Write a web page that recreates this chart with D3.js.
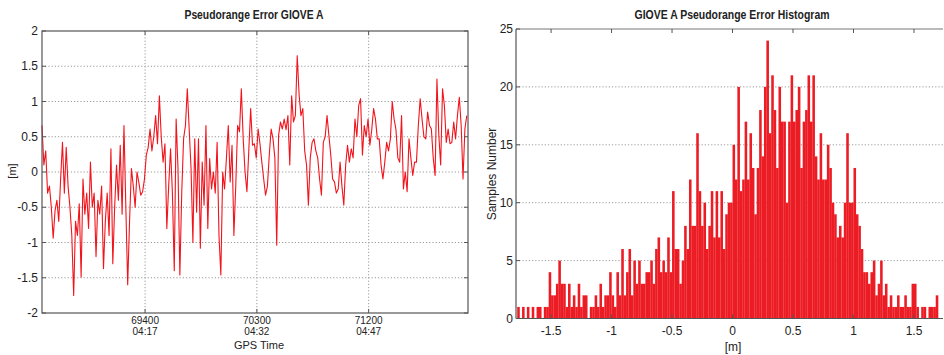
<!DOCTYPE html>
<html><head><meta charset="utf-8">
<script src="https://cdn.jsdelivr.net/npm/d3@7"></script>
<style>
html,body{margin:0;padding:0;background:#fff;}
text{font-family:'Liberation Sans Narrow','Liberation Sans',Arial,sans-serif;fill:#222;}
</style></head>
<body>
<svg id="c" width="944" height="355"></svg>
<script>
// ---- Left chart data: pseudorange error time series ----
const timeStart = 68570;   // GPS seconds of first sample
const timeStep = 15;       // seconds between samples
const errorValues = [
 0.66,0.1,0.3,-0.3,-0.2,-0.5,-0.94,-0.55,-0.4,-0.7,
 -0.1,0.42,-0.3,0.35,-0.2,-0.5,-0.9,-1.75,-0.7,-0.9,
 -0.45,-1.49,-0.1,-0.6,-0.3,-0.8,0.14,-0.5,-0.3,-1.2,
 -0.4,-0.6,-0.2,-1.37,-0.7,-0.3,-0.9,0.33,-1.3,-0.5,
 0.1,-0.4,0.38,-0.6,0.66,-0.5,-1.6,-0.7,0.05,-0.2,
 -0.5,0.0,-0.15,-0.33,-0.28,-0.1,0.24,0.35,0.61,0.3,
 0.5,0.8,0.4,1.08,0.5,0.14,0.4,-0.8,-0.2,0.33,
 -0.3,-1.4,0.75,0.05,-1.46,-0.3,0.47,0.66,1.18,0.61,
 0.05,-1.0,0.47,-0.57,0.47,-1.08,0.14,-0.47,0.66,-0.8,
 0.19,-0.24,0.0,-0.3,0.42,-0.9,-1.46,0.0,-0.24,0.2,
 0.66,-0.14,0.38,-0.9,-0.2,0.66,0.57,1.18,0.47,0.0,
 -0.28,0.3,0.9,0.38,0.4,0.2,0.61,0.4,0.14,-0.1,
 -0.33,-0.2,0.24,0.61,0.47,0.2,-1.04,0.52,0.71,0.61,
 0.75,0.6,0.8,0.1,1.08,0.71,0.8,1.65,1.1,0.8,
 0.9,0.3,0.1,-0.47,0.2,0.42,0.47,0.3,0.2,-0.1,
 -0.33,0.42,0.5,0.8,0.52,0.24,-0.1,-0.14,-0.3,-0.24,
 0.14,-0.2,-0.47,0.1,0.38,0.14,0.33,0.2,0.75,0.5,
 0.94,1.04,0.24,0.66,0.5,0.75,0.38,0.6,0.9,0.75,
 0.47,0.47,0.1,-0.1,0.14,0.42,0.3,0.47,1.0,0.75,
 0.6,0.2,0.14,0.8,-0.24,0.0,-0.28,0.47,0.2,-0.05,
 0.14,0.14,0.66,1.04,0.75,0.5,0.47,0.85,0.66,0.61,
 0.2,-0.05,1.32,0.52,0.1,1.18,0.94,0.42,0.61,0.4,
 0.42,0.71,0.47,0.8,1.06,0.66,-0.1,0.61,0.8
];
const leftYTicks = [2,1.5,1,0.5,0,-0.5,-1,-1.5,-2];
const leftXTicks = [69400,70300,71200];
const leftXTickTimes = ["04:17","04:32","04:47"];

// ---- Right chart data: histogram ----
const binStart = -1.78;
const binWidth = 0.02;
const binCounts = [
 1,0,1,0,1,0,1,0,1,1, 0,1,1,4,2,2,3,5,3,3,
 1,3,1,2,1,3,1,2,2,0, 1,1,2,1,3,1,2,2,4,2,
 1,4,2,6,2,4,6,2,5,3, 5,3,3,4,4,5,3,6,7,4,
 5,4,7,4,11,6,6,3,5,8, 6,12,8,8,16,11,8,10,6,8,
 11,7,11,7,11,6,9,10,10,15, 12,20,11,12,17,12,16,13,9,13,
 18,14,20,24,16,21,18,13,20,17, 17,10,17,21,17,18,20,13,17,18,
 21,17,21,14,12,16,12,12,15,13, 10,9,7,8,7,10,16,10,10,13,
 9,8,6,4,4,3,4,5,2,3, 5,2,3,1,2,1,1,2,1,1,
 2,1,1,3,3,1,0,1,1,0, 1,1,1,2,0
];
const rightYTicks = [0,5,10,15,20,25];
const rightXTicks = [-1.5,-1,-0.5,0,0.5,1,1.5];

const svg = d3.select("#c");
const boxColor = "#555";
const gridColor = "#9a9a9a";

// ================= LEFT CHART =================
const L = {x0:42, x1:468, y0:31, y1:313};
const xL = d3.scaleLinear().domain([68570, 72000]).range([L.x0, L.x1]);
const yL = d3.scaleLinear().domain([-2, 2]).range([L.y1, L.y0]);
const gL = svg.append("g");

gL.selectAll(".hg").data(leftYTicks.filter(d=>d>-2&&d<2)).join("line")
  .attr("x1",L.x0).attr("x2",L.x1).attr("y1",d=>yL(d)).attr("y2",d=>yL(d))
  .attr("stroke",gridColor).attr("stroke-width",1).attr("stroke-dasharray","1.2,2");
gL.selectAll(".vg").data(leftXTicks).join("line")
  .attr("x1",d=>xL(d)).attr("x2",d=>xL(d)).attr("y1",L.y0).attr("y2",L.y1)
  .attr("stroke",gridColor).attr("stroke-width",1).attr("stroke-dasharray","1.2,2");

const line = d3.line().x((d,i)=>xL(timeStart + i*timeStep)).y(d=>yL(d));
gL.append("path").datum(errorValues).attr("d",line)
  .attr("fill","none").attr("stroke","#f2141c").attr("stroke-width",1.1).attr("stroke-linejoin","round");

gL.append("rect").attr("x",L.x0).attr("y",L.y0).attr("width",L.x1-L.x0).attr("height",L.y1-L.y0)
  .attr("fill","none").attr("stroke",boxColor).attr("stroke-width",1.2);
leftYTicks.forEach(d=>{
  gL.append("line").attr("x1",L.x0).attr("x2",L.x0+4).attr("y1",yL(d)).attr("y2",yL(d)).attr("stroke",boxColor);
  gL.append("line").attr("x1",L.x1-4).attr("x2",L.x1).attr("y1",yL(d)).attr("y2",yL(d)).attr("stroke",boxColor);
});
leftXTicks.forEach(d=>{
  gL.append("line").attr("x1",xL(d)).attr("x2",xL(d)).attr("y1",L.y0).attr("y2",L.y0+4).attr("stroke",boxColor);
  gL.append("line").attr("x1",xL(d)).attr("x2",xL(d)).attr("y1",L.y1-4).attr("y2",L.y1).attr("stroke",boxColor);
});
gL.selectAll(".yl").data(leftYTicks).join("text")
  .attr("x",L.x0-4).attr("y",d=>yL(d)+4).attr("text-anchor","end")
  .attr("font-size",12).text(d=>String(d));
gL.selectAll(".xl").data(leftXTicks).join("text")
  .attr("x",d=>xL(d)).attr("y",323.5).attr("text-anchor","middle")
  .attr("font-size",10).text(d=>String(d));
gL.selectAll(".xl2").data(leftXTicks).join("text")
  .attr("x",d=>xL(d)).attr("y",335).attr("text-anchor","middle")
  .attr("font-size",10).text((d,i)=>leftXTickTimes[i]);
gL.append("text").attr("x",259).attr("y",349).attr("text-anchor","middle")
  .attr("font-size",11).text("GPS Time");
gL.append("text").attr("transform","translate(16,171) rotate(-90)").attr("text-anchor","middle")
  .attr("font-size",11).text("[m]");
gL.append("text").attr("x",254).attr("y",19).attr("text-anchor","middle")
  .attr("font-size",12).attr("font-weight","bold")
  .attr("textLength",139).attr("lengthAdjust","spacingAndGlyphs").text("Pseudorange Error GIOVE A");

// ================= RIGHT CHART =================
const R = {x0:516, x1:943, y0:29, y1:318.5};
const xR = d3.scaleLinear().domain([-1.79, 1.74]).range([R.x0, R.x1]);
const yR = d3.scaleLinear().domain([0, 25]).range([R.y1, R.y0]);
const gR = svg.append("g");

gR.selectAll(".hg").data(rightYTicks.filter(d=>d>0&&d<25)).join("line")
  .attr("x1",R.x0).attr("x2",R.x1).attr("y1",d=>yR(d)).attr("y2",d=>yR(d))
  .attr("stroke",gridColor).attr("stroke-width",1).attr("stroke-dasharray","1.2,2");

const bins = binCounts.map((c,i)=>({x0:binStart+i*binWidth, x1:binStart+(i+1)*binWidth, c}));
gR.selectAll(".bar").data(bins).join("rect")
  .attr("x",d=>xR(d.x0)).attr("width",d=>xR(d.x1)-xR(d.x0)+0.15)
  .attr("y",d=>yR(d.c)).attr("height",d=>yR(0)-yR(d.c))
  .attr("fill","#ec1c24").attr("stroke","none");

gR.append("line").attr("x1",R.x0).attr("x2",R.x1).attr("y1",R.y0).attr("y2",R.y0).attr("stroke","#777").attr("stroke-width",1.2);
gR.append("line").attr("x1",R.x0).attr("x2",R.x1).attr("y1",R.y1).attr("y2",R.y1).attr("stroke",boxColor).attr("stroke-width",1.2);
gR.append("line").attr("x1",R.x0).attr("x2",R.x0).attr("y1",R.y0).attr("y2",R.y1).attr("stroke",boxColor).attr("stroke-width",1.2);
rightXTicks.forEach(d=>{
  gR.append("line").attr("x1",xR(d)).attr("x2",xR(d)).attr("y1",R.y0).attr("y2",R.y0+4).attr("stroke",boxColor);
  gR.append("line").attr("x1",xR(d)).attr("x2",xR(d)).attr("y1",R.y1-4).attr("y2",R.y1).attr("stroke",boxColor);
});
rightYTicks.forEach(d=>{
  gR.append("line").attr("x1",R.x0).attr("x2",R.x0+4).attr("y1",yR(d)).attr("y2",yR(d)).attr("stroke",boxColor);
});
gR.selectAll(".yl").data(rightYTicks).join("text")
  .attr("x",R.x0-3).attr("y",d=>yR(d)+4).attr("text-anchor","end")
  .attr("font-size",12).text(d=>String(d));
gR.selectAll(".xl").data(rightXTicks).join("text")
  .attr("x",d=>xR(d)).attr("y",335).attr("text-anchor","middle")
  .attr("font-size",12).text(d=>String(d));
gR.append("text").attr("x",733).attr("y",351).attr("text-anchor","middle")
  .attr("font-size",12).text("[m]");
gR.append("text").attr("transform","translate(496,174) rotate(-90)").attr("text-anchor","middle")
  .attr("font-size",12).text("Samples Number");
gR.append("text").attr("x",732).attr("y",19).attr("text-anchor","middle")
  .attr("font-size",12).attr("font-weight","bold")
  .attr("textLength",195).attr("lengthAdjust","spacingAndGlyphs").text("GIOVE A Pseudorange Error Histogram");
</script>
</body></html>
